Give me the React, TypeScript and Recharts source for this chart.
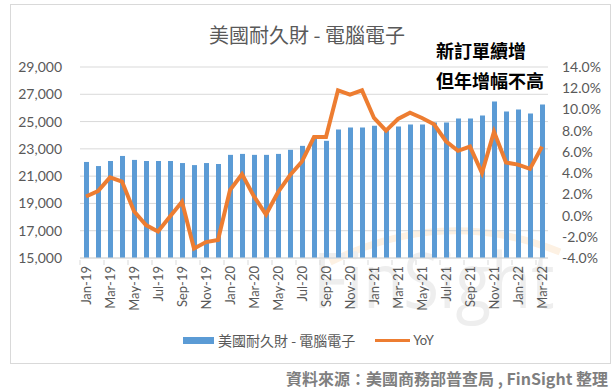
import React from 'react';
import {
  ComposedChart,
  Bar,
  Line,
  XAxis,
  YAxis,
  CartesianGrid,
} from 'recharts';

const months = [
  'Jan-19', 'Feb-19', 'Mar-19', 'Apr-19', 'May-19', 'Jun-19', 'Jul-19', 'Aug-19', 'Sep-19', 'Oct-19', 'Nov-19', 'Dec-19',
  'Jan-20', 'Feb-20', 'Mar-20', 'Apr-20', 'May-20', 'Jun-20', 'Jul-20', 'Aug-20', 'Sep-20', 'Oct-20', 'Nov-20', 'Dec-20',
  'Jan-21', 'Feb-21', 'Mar-21', 'Apr-21', 'May-21', 'Jun-21', 'Jul-21', 'Aug-21', 'Sep-21', 'Oct-21', 'Nov-21', 'Dec-21',
  'Jan-22', 'Feb-22', 'Mar-22',
];

// 新訂單 (百萬美元)
const orders = [
  22040, 21740, 22110, 22480, 22190, 22110, 22110, 22110, 21960, 21810, 21960, 21890,
  22560, 22630, 22560, 22560, 22630, 22930, 23220, 23815, 23590, 24410, 24560, 24560,
  24700, 24410, 24630, 24780, 24780, 24930, 24930, 25220, 25220, 25450, 26480, 25740,
  25890, 25590, 26260,
];

// 年增率 (%)
const yoy = [
  1.8, 2.3, 3.6, 3.2, 0.4, -0.9, -1.5, -0.1, 1.3, -3.1, -2.5, -2.3,
  2.4, 3.9, 1.8, 0.1, 2.2, 3.8, 5.1, 7.4, 7.4, 11.8, 11.4, 11.8,
  9.2, 8.0, 9.1, 9.7, 9.2, 8.6, 7.0, 6.1, 6.5, 4.0, 7.9, 5.0,
  4.8, 4.4, 6.5,
];

const leftTicks = [15000, 17000, 19000, 21000, 23000, 25000, 27000, 29000];
const rightTicks = [-4, -2, 0, 2, 4, 6, 8, 10, 12, 14];

const seriesName = '美國耐久財 - 電腦電子';

const data = months.map((m, i) => ({ month: m, orders: orders[i], yoy: yoy[i] }));

const BLUE = '#5B9BD5';
const ORANGE = '#ED7D31';
const GRAY = '#595959';
const FONT = "Lato, 'Noto Sans CJK TC', sans-serif";
const CJK = "'Noto Sans CJK TC', sans-serif";

const MonthTick = (props: any) => {
  const { x, y, payload } = props;
  return (
    <g>
      <line x1={x - 6} y1={y} x2={x - 6} y2={y + 5} stroke="#d9d9d9" />
      <text
        transform={`translate(${x},${y + 6}) rotate(-90)`}
        textAnchor="end"
        dy="0.35em"
        fontSize={13}
        fill={GRAY}
        fontFamily={FONT}
      >
        {payload.value}
      </text>
    </g>
  );
};

export default function App() {
  return (
    <div style={{ position: 'absolute', left: 0, top: 0, width: 614, height: 391, background: '#fff', fontFamily: CJK }}>
      {/* 浮水印 */}
      <svg width={614} height={391} style={{ position: 'absolute', left: 0, top: 0 }}>
        <path d="M 330 262 Q 445 205 560 252" fill="none" stroke="#fdf1e3" strokeWidth={7} />
        <text
          transform="translate(313,308) scale(0.86,1)"
          fontSize={76}
          fontFamily="'Open Sans', sans-serif"
          fill="#eeeeee"
        >
          FinSight
        </text>
      </svg>
      <div
        style={{
          position: 'absolute', left: 10, top: 4, width: 601, height: 360,
          border: '1px solid #d9d9d9', boxSizing: 'border-box',
        }}
      />
      <div style={{ position: 'absolute', left: 0, top: 0 }}>
        <ComposedChart
          width={614}
          height={391}
          data={data}
          margin={{ top: 67, right: 0, left: 0, bottom: 73 }}
        >
          <CartesianGrid yAxisId="left" vertical={false} stroke="#d9d9d9" />
          <XAxis
            dataKey="month"
            interval={1}
            tick={<MonthTick />}
            tickLine={false}
            tickSize={0}
            height={60}
            axisLine={{ stroke: '#d9d9d9' }}
          />
          <YAxis
            yAxisId="left"
            width={80}
            domain={[15000, 29000]}
            ticks={leftTicks}
            tickFormatter={(v: number) => v.toLocaleString('en-US')}
            axisLine={false}
            tickLine={false}
            tickSize={0}
            tickMargin={18}
            tick={{ fill: GRAY, fontSize: 14, fontFamily: FONT }}
          />
          <YAxis
            yAxisId="right"
            orientation="right"
            width={66}
            domain={[-4, 14]}
            ticks={rightTicks}
            tickFormatter={(v: number) => `${v.toFixed(1)}%`}
            axisLine={false}
            tickLine={false}
            tickSize={0}
            tickMargin={14}
            tick={{ fill: GRAY, fontSize: 14, fontFamily: FONT }}
          />
          <Bar yAxisId="left" dataKey="orders" name={seriesName} fill={BLUE} barSize={5} isAnimationActive={false} />
          <Line
            yAxisId="right"
            dataKey="yoy"
            name="YoY"
            stroke={ORANGE}
            strokeWidth={4}
            dot={false}
            type="linear"
            isAnimationActive={false}
          />
        </ComposedChart>
      </div>
      {/* 標題 */}
      <div style={{ position: 'absolute', left: 0, width: 614, top: 20, textAlign: 'center', fontSize: 20, color: GRAY }}>
        {seriesName}
      </div>
      <div style={{ position: 'absolute', left: 436, top: 38, fontSize: 18, fontWeight: 700, color: '#000', lineHeight: '24px' }}>
        新訂單續增
      </div>
      <div style={{ position: 'absolute', left: 436, top: 68, fontSize: 18, fontWeight: 700, color: '#000', lineHeight: '24px' }}>
        但年增幅不高
      </div>
      {/* 圖例 */}
      <div style={{ position: 'absolute', left: 183, top: 330, display: 'flex', alignItems: 'center', fontSize: 14, color: GRAY, lineHeight: '20px' }}>
        <span style={{ display: 'inline-block', width: 31, height: 7, background: BLUE, marginRight: 4 }} />
        <span>{seriesName}</span>
        <span style={{ display: 'inline-block', width: 35, height: 3, background: ORANGE, marginLeft: 20, marginRight: 3 }} />
        <span style={{ fontFamily: FONT, fontSize: 13 }}>YoY</span>
      </div>
      {/* 資料來源 */}
      <div style={{ position: 'absolute', right: 6, top: 366, fontSize: 16, fontWeight: 700, color: '#7f7f7f', lineHeight: '24px' }}>
        資料來源：美國商務部普查局 , FinSight 整理
      </div>
    </div>
  );
}
